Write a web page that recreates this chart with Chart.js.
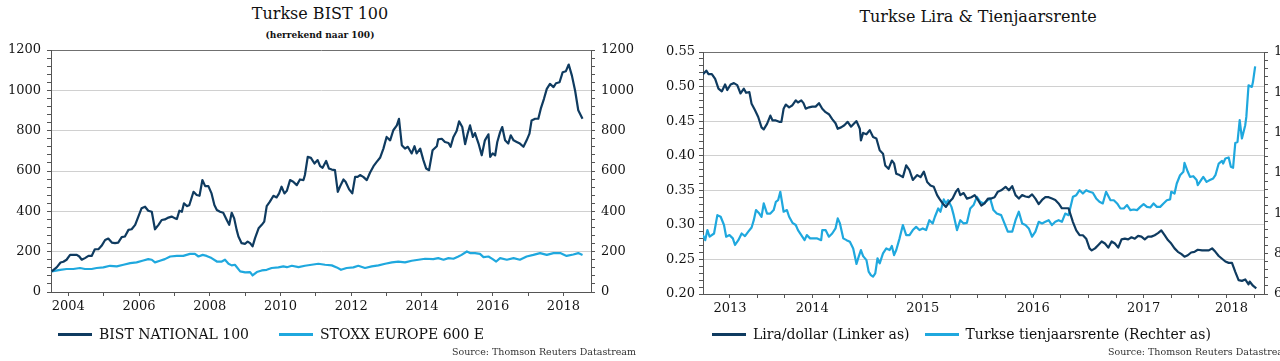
<!DOCTYPE html>
<html>
<head>
<meta charset="utf-8">
<script src="https://cdn.jsdelivr.net/npm/chart.js@4/dist/chart.umd.min.js"></script>
<style>
  html, body { margin: 0; padding: 0; background: #fff; }
  body { position: relative; width: 1280px; height: 361px; overflow: hidden; font-family: 'DejaVu Serif', serif; color: #111; }
  canvas { position: absolute; top: 0; }
  .txt { position: absolute; white-space: nowrap; }
  .title { font-size: 16px; line-height: 20px; text-align: center; }
  .sub { font-size: 9px; font-weight: bold; line-height: 10px; text-align: center; }
  .legend { position: absolute; display: flex; align-items: center; font-size: 14px; line-height: 16px; white-space: nowrap; }
  .legend .sw { display: inline-block; width: 34px; height: 3px; margin-right: 7px; }
  .source { font-size: 9.5px; line-height: 11px; text-align: right; color: #333; }
</style>
</head>
<body>
<div class="txt title" style="left:0;top:4px;width:640px">Turkse BIST 100</div>
<div class="txt sub" style="left:0;top:30px;width:640px">(herrekend naar 100)</div>
<div class="txt title" style="left:658px;top:7px;width:640px">Turkse Lira &amp; Tienjaarsrente</div>

<canvas id="bistChart" width="640" height="361" style="left:0"></canvas>
<canvas id="liraChart" width="640" height="361" style="left:658px"></canvas>

<div class="legend" id="bistLegend" style="left:58px;top:326px"></div>
<div class="legend" id="liraLegend" style="left:712px;top:326px"></div>

<div class="txt source" style="left:0;top:346px;width:636px">Source: Thomson Reuters Datastream</div>
<div class="txt source" style="left:658px;top:346px;width:634px">Source: Thomson Reuters Datastream</div>

<script>
// left chart: BIST vs STOXX, rebased to 100
var bistLabel = 'BIST NATIONAL 100';
var stoxxLabel = 'STOXX EUROPE 600 E';
var bistYears = [2003.53,2003.67,2003.78,2003.86,2003.95,2004.05,2004.14,2004.24,2004.31,2004.38,2004.47,2004.57,2004.66,2004.75,2004.85,2004.94,2005.04,2005.13,2005.23,2005.32,2005.41,2005.51,2005.60,2005.70,2005.79,2005.89,2005.98,2006.07,2006.17,2006.26,2006.36,2006.45,2006.55,2006.64,2006.73,2006.83,2006.92,2007.02,2007.07,2007.14,2007.21,2007.27,2007.35,2007.42,2007.54,2007.63,2007.71,2007.79,2007.87,2007.96,2008.05,2008.13,2008.20,2008.29,2008.38,2008.48,2008.55,2008.62,2008.69,2008.76,
  2008.81,2008.90,2009.00,2009.07,2009.14,2009.21,2009.28,2009.38,2009.47,2009.54,2009.61,2009.70,2009.80,2009.89,2009.96,2010.03,2010.11,2010.18,2010.27,2010.36,2010.46,2010.55,2010.65,2010.69,2010.77,2010.86,2010.96,2011.05,2011.12,2011.19,2011.29,2011.37,2011.45,2011.54,2011.62,2011.68,2011.78,2011.84,2011.94,2012.03,2012.11,2012.18,2012.25,2012.34,2012.44,2012.53,2012.63,2012.72,2012.82,2012.91,2013.00,2013.10,2013.19,2013.29,2013.35,2013.43,2013.52,2013.60,2013.71,2013.79,2013.85,2013.95,2014.04,2014.12,2014.20,2014.30,
  2014.42,2014.46,2014.56,2014.65,2014.75,2014.81,2014.89,2014.98,2015.05,2015.14,2015.22,2015.29,2015.36,2015.44,2015.50,2015.60,2015.69,2015.78,2015.88,2015.93,2016.00,2016.07,2016.13,2016.21,2016.27,2016.35,2016.44,2016.51,2016.59,2016.68,2016.77,2016.87,2016.96,2017.04,2017.10,2017.20,2017.29,2017.36,2017.45,2017.53,2017.62,2017.72,2017.79,2017.89,2017.98,2018.07,2018.15,2018.24,2018.33,2018.42,2018.49,2018.54];
var bistValues = [102,122,146,150,160,184,184,184,176,160,168,179,179,212,212,229,258,265,245,242,245,272,275,308,311,333,374,415,423,403,398,311,333,357,360,369,374,365,362,403,398,440,426,430,497,481,477,555,525,525,489,431,407,398,393,357,333,393,365,308,
  275,242,239,250,242,226,267,316,333,349,426,448,477,469,489,522,489,502,555,547,530,558,555,580,670,665,637,654,624,616,650,612,607,604,497,522,558,547,509,489,571,571,580,571,555,591,624,645,667,711,769,752,802,826,859,728,711,720,687,723,687,711,654,612,604,703,
  723,757,760,744,739,720,769,798,846,818,733,785,826,769,788,736,678,752,782,670,687,678,744,793,818,752,736,777,752,744,736,720,752,785,851,859,859,909,958,1007,1032,1016,1035,1040,1090,1095,1128,1073,999,901,876,859];
var stoxxYears = [2003.53,2003.77,2003.95,2004.14,2004.33,2004.47,2004.66,2004.80,2004.99,2005.18,2005.37,2005.56,2005.75,2005.93,2006.12,2006.26,2006.36,2006.45,2006.59,2006.73,2006.88,2007.07,2007.25,2007.44,2007.58,2007.68,2007.80,2007.91,2008.05,2008.20,2008.34,2008.43,2008.53,2008.62,2008.71,2008.86,2009.00,2009.14,2009.21,2009.33,2009.47,2009.61,2009.75,2009.94,2010.08,2010.18,2010.32,2010.51,2010.69,2010.88,2011.07,2011.26,2011.45,2011.59,2011.71,2011.87,2012.06,2012.20,2012.39,2012.58,2012.77,2012.96,2013.15,2013.33,2013.52,2013.71,2013.90,2014.09,2014.32,2014.46,2014.61,2014.75,2014.89,2015.03,2015.12,2015.27,2015.36,2015.50,2015.64,2015.74,2015.88,2016.00,2016.10,2016.21,2016.40,2016.59,2016.77,2016.96,2017.15,2017.34,2017.53,2017.72,2017.91,2018.09,2018.28,2018.42,2018.54];
var stoxxValues = [102,110,114,114,119,114,114,119,122,130,127,135,143,147,156,163,160,147,155,163,176,179,179,189,189,176,184,179,168,151,151,160,140,132,135,102,97,99,82,99,107,110,119,122,127,123,130,123,130,135,140,135,132,122,110,119,122,130,119,127,132,140,147,151,147,155,160,165,163,168,160,168,165,176,184,201,193,193,189,173,176,163,151,168,160,168,160,176,184,193,184,193,193,179,186,193,184];
var bistYearLabels = ['2004','2006','2008','2010','2012','2014','2016','2018'];

// right chart: lira per dollar vs 10y yield
var liraLabel = 'Lira/dollar (Linker as)';
var yieldLabel = 'Turkse tienjaarsrente (Rechter as)';
var liraYears = [2013.51,2013.54,2013.56,2013.59,2013.62,2013.65,2013.68,2013.71,2013.73,2013.76,2013.79,2013.82,2013.85,2013.88,2013.90,2013.93,2013.95,2013.98,2014.01,2014.04,2014.06,2014.09,2014.12,2014.14,2014.17,2014.20,2014.22,2014.24,2014.26,2014.29,2014.32,2014.35,2014.37,2014.40,2014.42,2014.44,2014.47,2014.50,2014.53,2014.56,2014.59,2014.62,2014.65,2014.68,2014.71,2014.73,2014.76,2014.79,2014.82,2014.85,2014.88,2014.90,2014.93,2014.94,2014.96,2014.99,2015.02,2015.05,2015.08,
  2015.11,2015.14,2015.16,2015.19,2015.22,2015.24,2015.26,2015.29,2015.32,2015.35,2015.38,2015.41,2015.45,2015.48,2015.51,2015.54,2015.57,2015.60,2015.63,2015.65,2015.68,2015.71,2015.74,2015.77,2015.80,2015.82,2015.84,2015.87,2015.90,2015.94,2015.97,2016.00,2016.03,2016.06,2016.09,2016.12,2016.15,2016.18,2016.21,2016.25,2016.28,2016.31,2016.34,2016.37,2016.40,2016.43,2016.46,2016.49,2016.52,2016.55,2016.58,2016.61,2016.64,2016.67,2016.70,2016.73,2016.76,2016.79,2016.82,
  2016.86,2016.89,2016.92,2016.95,2016.98,2017.01,2017.03,2017.06,2017.09,2017.12,2017.15,2017.18,2017.21,2017.24,2017.27,2017.30,2017.33,2017.36,2017.39,2017.42,2017.45,2017.48,2017.51,2017.54,2017.57,2017.60,2017.63,2017.66,2017.69,2017.72,2017.75,2017.78,2017.81,2017.84,2017.87,2017.90,2017.93,2017.96,2017.99,2018.03,2018.06,2018.09,2018.12,2018.15,2018.18,2018.21,2018.24,2018.27,2018.30,2018.33,2018.36,2018.39,2018.42,2018.45,2018.46,2018.49,2018.52];
var liraValues = [0.518,0.523,0.518,0.518,0.511,0.497,0.493,0.503,0.495,0.503,0.505,0.502,0.490,0.497,0.491,0.492,0.475,0.466,0.456,0.441,0.438,0.446,0.458,0.451,0.451,0.449,0.449,0.468,0.474,0.470,0.473,0.480,0.477,0.480,0.476,0.468,0.470,0.471,0.471,0.476,0.468,0.463,0.460,0.453,0.447,0.439,0.441,0.444,0.449,0.442,0.447,0.450,0.439,0.422,0.433,0.431,0.437,0.427,0.425,
  0.408,0.403,0.386,0.381,0.393,0.389,0.374,0.372,0.369,0.386,0.379,0.365,0.372,0.369,0.377,0.362,0.357,0.355,0.343,0.338,0.331,0.326,0.333,0.338,0.348,0.352,0.343,0.346,0.338,0.340,0.343,0.336,0.328,0.331,0.338,0.338,0.340,0.348,0.350,0.355,0.350,0.356,0.343,0.338,0.343,0.341,0.340,0.344,0.338,0.330,0.336,0.340,0.340,0.338,0.336,0.331,0.324,0.324,0.324,
  0.304,0.292,0.285,0.285,0.280,0.266,0.263,0.266,0.271,0.276,0.273,0.267,0.276,0.273,0.267,0.279,0.280,0.279,0.282,0.280,0.284,0.283,0.279,0.283,0.283,0.285,0.288,0.292,0.285,0.278,0.273,0.266,0.261,0.258,0.254,0.256,0.260,0.261,0.264,0.263,0.263,0.263,0.266,0.261,0.255,0.251,0.247,0.245,0.245,0.232,0.220,0.219,0.221,0.214,0.218,0.212,0.208];
var yieldYears = [2013.51,2013.53,2013.55,2013.57,2013.61,2013.64,2013.67,2013.70,2013.72,2013.75,2013.78,2013.80,2013.83,2013.86,2013.89,2013.92,2013.95,2013.97,2013.99,2014.02,2014.04,2014.06,2014.09,2014.12,2014.15,2014.17,2014.19,2014.21,2014.24,2014.27,2014.29,2014.32,2014.35,2014.37,2014.40,2014.43,2014.45,2014.48,2014.51,2014.54,2014.58,2014.59,2014.62,2014.65,2014.68,2014.71,2014.73,2014.75,2014.78,2014.81,2014.84,2014.87,2014.90,2014.92,2014.94,2014.96,2014.99,2015.01,2015.03,2015.05,2015.07,2015.09,
  2015.11,2015.14,2015.17,2015.20,2015.22,2015.24,2015.26,2015.29,2015.32,2015.35,2015.38,2015.41,2015.44,2015.47,2015.50,2015.53,2015.56,2015.59,2015.61,2015.64,2015.66,2015.69,2015.71,2015.73,2015.76,2015.78,2015.81,2015.84,2015.87,2015.90,2015.93,2015.96,2015.99,2016.02,2016.05,2016.08,2016.11,2016.14,2016.17,2016.21,2016.24,2016.27,2016.31,2016.34,2016.37,2016.40,2016.43,2016.46,2016.49,2016.52,2016.55,2016.58,2016.61,2016.64,2016.67,2016.70,2016.73,2016.76,2016.79,2016.82,
  2016.86,2016.89,2016.92,2016.95,2016.98,2017.01,2017.04,2017.07,2017.10,2017.13,2017.16,2017.20,2017.23,2017.26,2017.29,2017.32,2017.35,2017.38,2017.41,2017.44,2017.47,2017.50,2017.53,2017.56,2017.59,2017.62,2017.65,2017.68,2017.71,2017.74,2017.75,2017.78,2017.80,2017.83,2017.86,2017.87,2017.90,2017.92,2017.95,2017.98,2017.99,2018.02,2018.04,2018.07,2018.10,2018.13,2018.15,2018.18,2018.21,2018.22,2018.24,2018.27,2018.29,2018.31,2018.33,2018.35,2018.37,2018.39,2018.42,2018.43,2018.45,2018.48,2018.49,2018.51];
var yieldValues = [8.92,8.67,9.17,8.84,9.00,9.91,9.83,9.42,8.84,8.92,8.76,8.43,8.67,9.00,8.87,9.09,9.30,9.66,10.16,9.99,9.83,10.49,9.99,9.99,10.16,10.57,10.65,11.07,10.08,10.16,9.83,9.53,9.42,9.17,8.92,8.67,8.92,8.76,8.76,8.76,8.67,9.17,9.17,8.84,9.00,9.25,9.75,9.50,8.76,8.67,8.59,8.26,7.49,7.85,8.18,7.88,7.68,7.11,6.94,6.86,7.02,7.77,
  7.52,8.01,8.26,8.18,8.38,7.93,8.18,8.76,9.42,8.92,8.92,9.17,9.33,9.17,9.25,9.17,9.66,9.50,9.83,10.24,10.08,10.69,10.49,10.65,10.32,9.91,9.17,9.66,9.50,9.53,10.24,10.41,10.82,10.57,10.49,10.62,10.74,10.16,9.99,9.91,9.50,9.09,9.09,9.66,10.08,9.50,9.42,9.25,8.84,9.09,9.58,9.50,9.58,9.66,9.42,9.58,9.66,9.58,9.99,9.91,
  10.82,10.90,11.15,10.98,11.15,11.07,11.02,10.74,10.57,10.49,11.07,10.65,10.65,10.49,10.24,10.24,10.41,10.16,10.19,10.16,10.32,10.46,10.32,10.29,10.49,10.32,10.32,10.49,10.65,10.69,11.07,10.98,11.48,11.89,12.06,12.50,12.06,11.81,11.84,11.65,11.40,11.65,11.81,11.56,11.65,11.73,11.89,12.47,12.60,12.47,12.72,12.77,12.31,12.26,13.49,13.54,14.62,13.71,14.37,14.78,16.35,16.27,16.51,17.29];
var liraYearLabels = ['2013','2014','2015','2016','2017','2018'];

var navy = '#0f3b60';
var sky = '#1fa8de';
var gridGray = '#d0d0d0';
var axisGray = '#555555';
var topGray = '#707070';

Chart.defaults.font.family = "'DejaVu Serif', serif";
Chart.defaults.font.size = 13;
Chart.defaults.color = '#151515';

function points(xs, ys) {
  return xs.map(function(x, i) { return {x: x, y: ys[i]}; });
}

function lineSet(label, xs, ys, color, axis) {
  return {
    label: label, data: points(xs, ys), borderColor: color, backgroundColor: color,
    borderWidth: 2.2, pointRadius: 0, tension: 0, borderJoinStyle: 'round', yAxisID: axis
  };
}

function setTicks(values) {
  return function(scale) { scale.ticks = values.map(function(v) { return {value: v}; }); };
}

function fixWidth(w) { return function(scale) { scale.width = w; }; }
function fixHeight(h) { return function(scale) { scale.height = h; }; }

function buildLegend(id, items, gap) {
  var el = document.getElementById(id);
  items.forEach(function(it, i) {
    var sw = document.createElement('span');
    sw.className = 'sw';
    sw.style.background = it.color;
    var tx = document.createElement('span');
    tx.textContent = it.label;
    if (i < items.length - 1) tx.style.marginRight = gap + 'px';
    el.appendChild(sw);
    el.appendChild(tx);
  });
}

// ---------- left chart ----------
var bistMinorY = [];
for (var v = 0; v <= 1200; v += 40) bistMinorY.push(v);
var bistXTicks = [];
for (var yr = 2004; yr <= 2018; yr += 1) bistXTicks.push(yr);

function bistYGrid(ctx) {
  var val = ctx.tick.value;
  if (val === 1200) return topGray;
  if (val === 0) return axisGray;
  return val % 200 === 0 ? gridGray : 'rgba(0,0,0,0)';
}
function bistYLabel(val) { return val % 200 === 0 ? String(val) : ''; }

var bistAxisY = function(pos, w) {
  return {
    position: pos, min: 0, max: 1200,
    afterBuildTicks: setTicks(bistMinorY),
    afterFit: fixWidth(w),
    ticks: { callback: bistYLabel, autoSkip: false, padding: 6 },
    grid: { color: bistYGrid, drawOnChartArea: pos === 'left', tickLength: 4, tickColor: axisGray },
    border: { color: axisGray }
  };
};

new Chart(document.getElementById('bistChart'), {
  type: 'line',
  data: {
    datasets: [
      lineSet(bistLabel, bistYears, bistValues, navy, 'y'),
      lineSet(stoxxLabel, stoxxYears, stoxxValues, sky, 'y')
    ]
  },
  options: {
    responsive: false, animation: false, devicePixelRatio: 1,
    layout: { padding: { top: 50, bottom: 39, left: 0, right: 0 } },
    plugins: { legend: { display: false }, tooltip: { enabled: false } },
    scales: {
      x: {
        type: 'linear', min: 2003.51, max: 2018.78,
        afterBuildTicks: setTicks(bistXTicks),
        afterFit: fixHeight(30),
        ticks: {
          autoSkip: false, maxRotation: 0, padding: 3,
          callback: function(val) { return bistYearLabels.indexOf(String(val)) >= 0 ? String(val) : ''; }
        },
        grid: { drawOnChartArea: false, tickLength: 4, tickColor: axisGray },
        border: { color: axisGray }
      },
      y: bistAxisY('left', 51),
      y2: bistAxisY('right', 49)
    }
  }
});

buildLegend('bistLegend', [{label: bistLabel, color: navy}, {label: stoxxLabel, color: sky}], 30);

// ---------- right chart ----------
var liraMin = 2013.51, liraMax = 2018.59;
var liraMinorY = [];
for (var i = 0; i <= 35; i++) liraMinorY.push((20 + i) / 100);
var yieldMinorY = [];
for (var j = 0; j <= 30; j++) yieldMinorY.push(Math.round((6 + j * 0.4) * 10) / 10);

// quarter ticks, labels in the middle of each (visible) year
var liraXTicks = [];
var liraTickText = {};
for (var q = 2013.75; q <= 2018.5; q += 0.25) liraXTicks.push(q);
liraYearLabels.forEach(function(lbl) {
  var y0 = Math.max(Number(lbl), liraMin);
  var y1 = Math.min(Number(lbl) + 1, liraMax);
  var mid = Math.round((y0 + y1) / 2 * 1000) / 1000;
  liraTickText[mid] = lbl;
  if (liraXTicks.indexOf(mid) < 0) liraXTicks.push(mid);
});
liraXTicks.sort(function(a, b) { return a - b; });

new Chart(document.getElementById('liraChart'), {
  type: 'line',
  data: {
    datasets: [
      lineSet(liraLabel, liraYears, liraValues, navy, 'y'),
      lineSet(yieldLabel, yieldYears, yieldValues, sky, 'y2')
    ]
  },
  options: {
    responsive: false, animation: false, devicePixelRatio: 1,
    layout: { padding: { top: 52, bottom: 37, left: 0, right: 0 } },
    plugins: { legend: { display: false }, tooltip: { enabled: false } },
    scales: {
      x: {
        type: 'linear', min: liraMin, max: liraMax,
        afterBuildTicks: setTicks(liraXTicks),
        afterFit: fixHeight(30),
        ticks: {
          autoSkip: false, maxRotation: 0, padding: 3,
          callback: function(val) { return liraTickText[val] || ''; }
        },
        grid: {
          drawOnChartArea: false, tickLength: 4,
          tickColor: function(ctx) { return (ctx.tick.value * 4) % 1 === 0 ? axisGray : 'rgba(0,0,0,0)'; }
        },
        border: { color: axisGray }
      },
      y: {
        position: 'left', min: 0.2, max: 0.55,
        afterBuildTicks: setTicks(liraMinorY),
        afterFit: fixWidth(45),
        ticks: {
          autoSkip: false, padding: 4,
          callback: function(val) { return Math.round(val * 100) % 5 === 0 ? val.toFixed(2) : ''; }
        },
        grid: {
          tickLength: 4, tickColor: axisGray,
          color: function(ctx) {
            var c = Math.round(ctx.tick.value * 100);
            if (c === 55) return topGray;
            if (c === 20) return axisGray;
            return c % 5 === 0 ? gridGray : 'rgba(0,0,0,0)';
          }
        },
        border: { color: axisGray }
      },
      y2: {
        position: 'right', min: 6, max: 18,
        afterBuildTicks: setTicks(yieldMinorY),
        afterFit: fixWidth(34),
        ticks: {
          autoSkip: false, padding: 6,
          callback: function(val) { return Number.isInteger(val) && val % 2 === 0 ? String(val) : ''; }
        },
        grid: { drawOnChartArea: false, tickLength: 4, tickColor: axisGray },
        border: { color: axisGray }
      }
    }
  }
});

buildLegend('liraLegend', [{label: liraLabel, color: navy}, {label: yieldLabel, color: sky}], 15);
</script>
</body>
</html>
